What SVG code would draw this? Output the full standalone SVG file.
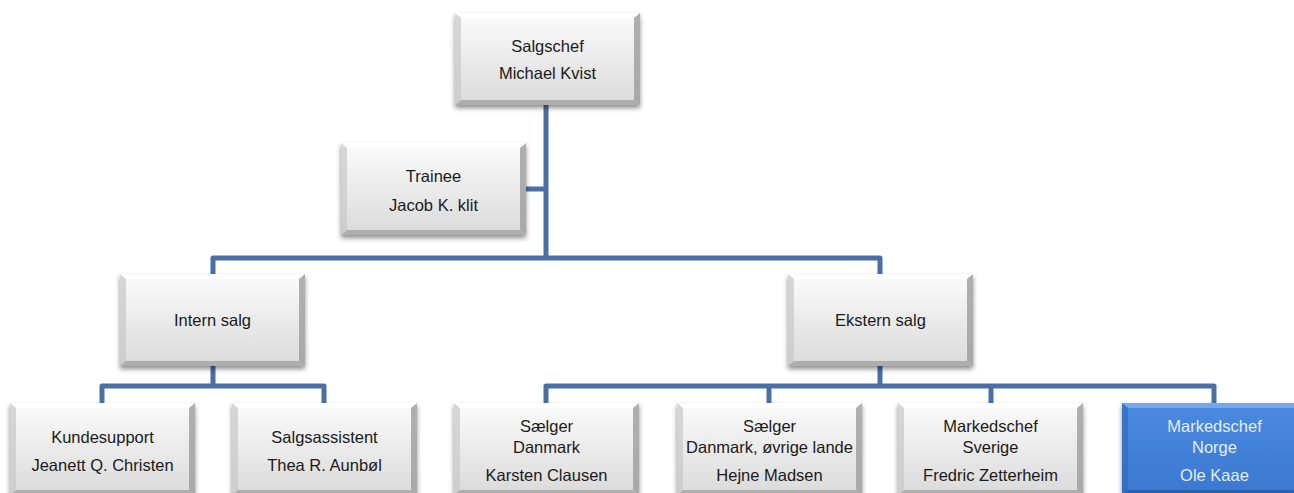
<svg xmlns="http://www.w3.org/2000/svg" xmlns:xlink="http://www.w3.org/1999/xlink" width="1294" height="493" viewBox="0 0 1294 493">
<style>
.lbl{font-family:"Liberation Sans",Arial,sans-serif;font-size:16.5px;fill:#1a1a1a;text-anchor:middle}
.lblw{font-family:"Liberation Sans",Arial,sans-serif;font-size:16.5px;fill:#e4edf9;text-anchor:middle}
.conn{fill:none;stroke:#4a6fa6;stroke-width:5;stroke-linejoin:round;stroke-linecap:butt}
</style>
<defs>
<filter id="sh" x="-10%" y="-10%" width="125%" height="130%">
<feDropShadow dx="0" dy="3" stdDeviation="2.5" flood-color="#000" flood-opacity="0.45"/>
</filter>
<linearGradient id="gface" x1="0" y1="0" x2="0" y2="1">
<stop offset="0" stop-color="#fbfbfb"/>
<stop offset="1" stop-color="#dadada"/>
</linearGradient>
<linearGradient id="gblue" x1="0" y1="0" x2="0" y2="1">
<stop offset="0" stop-color="#4a8ae0"/>
<stop offset="1" stop-color="#3a78cf"/>
</linearGradient>
<g id="box">
<rect x="0" y="0" width="185" height="92" fill="url(#gface)" filter="url(#sh)"/>
<polygon points="0,0 185,0 179,5 6,5" fill="#ffffff" opacity="0.9"/>
<polygon points="0,0 6,5 6,87 0,92" fill="#c8c8c8" opacity="0.7"/>
<polygon points="185,0 185,92 179,87 179,5" fill="#9c9c9c" opacity="0.8"/>
<polygon points="0,92 6,87 179,87 185,92" fill="#a9a9a9" opacity="0.9"/>
</g>
<g id="boxblue">
<rect x="0" y="0" width="185" height="92" fill="url(#gblue)" filter="url(#sh)"/>
<polygon points="0,0 185,0 179,5 6,5" fill="#7fb0f0" opacity="0.8"/>
<polygon points="0,0 6,5 6,87 0,92" fill="#2f68bb" opacity="0.6"/>
<polygon points="185,0 185,92 179,87 179,5" fill="#2a5ea8" opacity="0.8"/>
<polygon points="0,92 6,87 179,87 185,92" fill="#2a5ea8" opacity="0.9"/>
</g>
</defs>
<rect width="1294" height="493" fill="#ffffff"/>
<g id="connectors">
<path class="conn" d="M546,104 V258"/>
<path class="conn" d="M526,189 H546"/>
<path class="conn" d="M213,274 V258 H880 V274"/>
<path class="conn" d="M213,366 V386"/>
<path class="conn" d="M102,403 V386 H324 V403"/>
<path class="conn" d="M880,366 V386"/>
<path class="conn" d="M546,403 V386 H1214 V403"/>
<path class="conn" d="M769,386 V403"/>
<path class="conn" d="M991,386 V403"/>
</g>
<g id="n-salgschef" transform="translate(455,13)">
<use href="#box"/>
<text class="lbl" x="92.5" y="39">Salgschef</text>
<text class="lbl" x="92.5" y="66">Michael Kvist</text>
</g>
<g id="n-trainee" transform="translate(341,143)">
<use href="#box"/>
<text class="lbl" x="92.5" y="39">Trainee</text>
<text class="lbl" x="92.5" y="68">Jacob K. klit</text>
</g>
<g id="n-intern" transform="translate(120,274)">
<use href="#box"/>
<text class="lbl" x="92.5" y="52">Intern salg</text>
</g>
<g id="n-ekstern" transform="translate(788,274)">
<use href="#box"/>
<text class="lbl" x="92.5" y="52">Ekstern salg</text>
</g>
<g id="n-kundesupport" transform="translate(10,403)">
<use href="#box"/>
<text class="lbl" x="92.5" y="40">Kundesupport</text>
<text class="lbl" x="92.5" y="68">Jeanett Q. Christen</text>
</g>
<g id="n-salgsassistent" transform="translate(232,403)">
<use href="#box"/>
<text class="lbl" x="92.5" y="40">Salgsassistent</text>
<text class="lbl" x="92.5" y="68">Thea R. Aunbøl</text>
</g>
<g id="n-saelger-dk" transform="translate(454,403)">
<use href="#box"/>
<text class="lbl" x="92.5" y="29">Sælger</text>
<text class="lbl" x="92.5" y="50">Danmark</text>
<text class="lbl" x="92.5" y="78">Karsten Clausen</text>
</g>
<g id="n-saelger-ovrige" transform="translate(677,403)">
<use href="#box"/>
<text class="lbl" x="92.5" y="29">Sælger</text>
<text class="lbl" x="92.5" y="50">Danmark, øvrige lande</text>
<text class="lbl" x="92.5" y="78">Hejne Madsen</text>
</g>
<g id="n-sverige" transform="translate(898,403)">
<use href="#box"/>
<text class="lbl" x="92.5" y="29">Markedschef</text>
<text class="lbl" x="92.5" y="50">Sverige</text>
<text class="lbl" x="92.5" y="78">Fredric Zetterheim</text>
</g>
<g id="n-norge" transform="translate(1122,403)">
<use href="#boxblue"/>
<text class="lblw" x="92.5" y="29">Markedschef</text>
<text class="lblw" x="92.5" y="50">Norge</text>
<text class="lblw" x="92.5" y="78">Ole Kaae</text>
</g>
</svg>
